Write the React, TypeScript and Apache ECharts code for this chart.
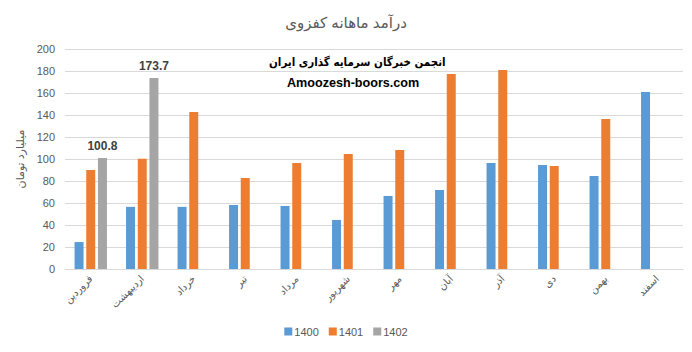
import React, { useEffect, useRef } from "react";
import * as echarts from "echarts";

const months = ["فروردین", "اردیبهشت", "خرداد", "تیر", "مرداد", "شهریور", "مهر", "آبان", "آذر", "دی", "بهمن", "اسفند"];
const s1400 = [24.5, 56.5, 56.5, 58.2, 57.3, 44.6, 66.4, 71.8, 96.4, 94.5, 84.5, 160.9];
const s1401 = [90.1, 100.2, 142.7, 82.7, 96.4, 104.5, 108.2, 177.3, 180.9, 93.6, 136.4, null];
const s1402 = [100.8, 173.7, null, null, null, null, null, null, null, null, null, null];
const yTicks = { min: 0, max: 200, interval: 20 };

export default function App() {
  const ref = useRef<HTMLDivElement>(null);
  useEffect(() => {
    const chart = echarts.init(ref.current!, null, { renderer: "svg" });
    const font = "'Liberation Sans', 'DejaVu Sans', sans-serif";
    chart.setOption({
      animation: false,
      textStyle: { fontFamily: font },
      title: {
        text: "درآمد ماهانه کفزوی",
        left: "center",
        top: 10,
        textStyle: { color: "#595959", fontSize: 15, fontWeight: "normal", fontFamily: font },
      },
      graphic: [
        {
          type: "text",
          left: 269,
          top: 56,
          style: { text: "انجمن خبرگان سرمایه گذاری ایران", fill: "#000", font: "bold 11.5px 'DejaVu Sans Condensed', 'DejaVu Sans', sans-serif" },
        },
        {
          type: "text",
          left: 287,
          top: 76,
          style: { text: "Amoozesh-boors.com", fill: "#000", font: "bold 12.6px 'Liberation Sans', sans-serif" },
        },
      ],
      legend: {
        bottom: 10,
        left: "center",
        itemWidth: 8,
        itemHeight: 8,
        itemGap: 10,
        icon: "rect",
        textStyle: { color: "#595959", fontSize: 11, padding: [0, 0, 0, -3] },
        data: ["1400", "1401", "1402"],
      },
      grid: { left: 65, right: 9, top: 49, bottom: 83, containLabel: false },
      xAxis: {
        type: "category",
        data: months,
        axisLine: { lineStyle: { color: "#D9D9D9" } },
        axisTick: { show: false },
        axisLabel: { rotate: 45, color: "#595959", fontSize: 10, margin: 8, interval: 0 },
      },
      yAxis: {
        type: "value",
        min: yTicks.min,
        max: yTicks.max,
        interval: yTicks.interval,
        name: "میلیارد تومان",
        nameLocation: "middle",
        nameRotate: 90,
        nameGap: 30,
        nameTextStyle: { color: "#595959", fontSize: 11 },
        axisLine: { show: false },
        axisTick: { show: false },
        axisLabel: { color: "#595959", fontSize: 11, margin: 10 },
        splitLine: { lineStyle: { color: "#D9D9D9" } },
      },
      series: [
        { name: "1400", type: "bar", data: s1400, barWidth: 9, barGap: "30%", itemStyle: { color: "#5B9BD5" } },
        { name: "1401", type: "bar", data: s1401, barWidth: 9, barGap: "30%", itemStyle: { color: "#ED7D31" } },
        {
          name: "1402",
          type: "bar",
          data: s1402,
          barWidth: 9,
          barGap: "30%",
          itemStyle: { color: "#A5A5A5" },
          label: {
            show: true,
            position: "top",
            distance: 6,
            color: "#404040",
            fontWeight: "bold",
            fontSize: 12,
            formatter: (p: any) => Number(p.value).toFixed(1),
          },
        },
      ],
    });
    return () => chart.dispose();
  }, []);
  return <div ref={ref} style={{ width: 692, height: 352, margin: -8, background: "#fff" }} />;
}
